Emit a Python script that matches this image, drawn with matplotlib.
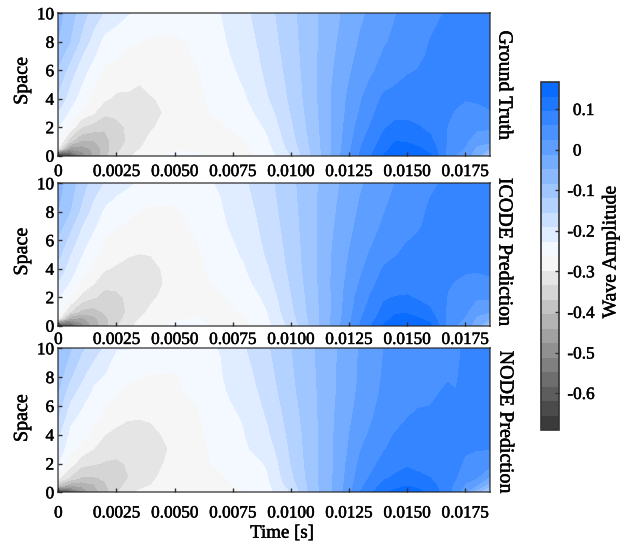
import numpy as np
import matplotlib
matplotlib.use("Agg")
import matplotlib.pyplot as plt
import matplotlib.patheffects as pe
from matplotlib.colors import LinearSegmentedColormap
from matplotlib.text import Text
from matplotlib.transforms import ScaledTranslation

plt.rcParams['font.family'] = ['Liberation Serif', 'DejaVu Serif']
plt.rcParams['font.size'] = 12.4

# grid the fields were read on
space = [0, 0.5, 1, 2, 3, 4, 5, 6, 7, 8, 10]
time = [0, 0.0005, 0.001, 0.0015, 0.002, 0.0025, 0.003, 0.0035, 0.004, 0.005, 0.006, 0.007, 0.008, 0.009,
        0.010, 0.011, 0.012, 0.013, 0.014, 0.0145, 0.015, 0.0155, 0.016, 0.01675, 0.0171, 0.0175, 0.018, 0.01857]

# one line per time value, one entry per space value
truth = [
    [-.69, -.30, -.258, -.227, -.195, -.165, -.145, -.125, -.105, -.085, -.07],
    [-.62, -.47, -.36, -.27, -.235, -.208, -.191, -.17, -.145, -.12, -.105],
    [-.50, -.46, -.41, -.335, -.272, -.245, -.227, -.212, -.19, -.165, -.137],
    [-.44, -.435, -.41, -.35, -.295, -.272, -.258, -.24, -.222, -.205, -.172],
    [-.385, -.39, -.385, -.365, -.327, -.293, -.28, -.268, -.254, -.24, -.195],
    [-.335, -.345, -.35, -.352, -.322, -.305, -.29, -.272, -.26, -.25, -.21],
    [-.305, -.32, -.33, -.326, -.31, -.303, -.293, -.278, -.266, -.26, -.225],
    [-.285, -.3, -.31, -.318, -.315, -.305, -.298, -.276, -.27, -.262, -.232],
    [-.272, -.275, -.285, -.302, -.31, -.302, -.285, -.276, -.272, -.268, -.24],
    [-.256, -.265, -.27, -.278, -.285, -.28, -.275, -.272, -.27, -.27, -.243],
    [-.261, -.265, -.268, -.27, -.27, -.269, -.267, -.264, -.26, -.255, -.24],
    [-.27, -.27, -.27, -.268, -.255, -.25, -.245, -.24, -.236, -.233, -.227],
    [-.272, -.27, -.263, -.25, -.24, -.232, -.225, -.22, -.215, -.21, -.2],
    [-.247, -.24, -.232, -.222, -.21, -.195, -.188, -.183, -.179, -.175, -.168],
    [-.191, -.18, -.172, -.163, -.155, -.149, -.146, -.142, -.139, -.136, -.131],
    [-.11, -.108, -.105, -.1, -.097, -.094, -.093, -.092, -.092, -.092, -.092],
    [-.025, -.028, -.03, -.031, -.032, -.032, -.035, -.04, -.044, -.048, -.054],
    [.063, .058, .052, .04, .028, .02, .012, .005, -.002, -.008, -.018],
    [.133, .118, .108, .09, .078, .066, .05, .035, .027, .02, .01],
    [.158, .144, .131, .105, .085, .071, .058, .045, .037, .03, .022],
    [.162, .146, .128, .105, .085, .075, .066, .055, .047, .04, .033],
    [.155, .135, .12, .097, .082, .075, .068, .06, .055, .05, .041],
    [.135, .12, .105, .085, .08, .075, .068, .065, .062, .06, .05],
    [.05, .052, .055, .058, .063, .068, .072, .072, .07, .068, .062],
    [.022, .035, .042, .047, .056, .066, .07, .072, .073, .073, .068],
    [.002, .02, .03, .04, .052, .06, .068, .074, .076, .076, .072],
    [-.03, -.02, .0, .03, .052, .062, .072, .076, .078, .08, .078],
    [-.14, -.05, -.005, .03, .055, .07, .078, .08, .082, .084, .085],
]

icode = [
    [-.69, -.29, -.25, -.225, -.195, -.168, -.145, -.125, -.105, -.085, -.07],
    [-.61, -.44, -.33, -.26, -.23, -.208, -.19, -.168, -.145, -.12, -.103],
    [-.50, -.45, -.38, -.31, -.268, -.245, -.226, -.21, -.19, -.165, -.137],
    [-.43, -.42, -.385, -.33, -.295, -.27, -.255, -.237, -.22, -.205, -.172],
    [-.385, -.38, -.365, -.345, -.325, -.295, -.278, -.265, -.25, -.235, -.195],
    [-.338, -.345, -.35, -.345, -.32, -.303, -.286, -.272, -.26, -.25, -.21],
    [-.31, -.325, -.33, -.326, -.315, -.306, -.296, -.28, -.268, -.255, -.222],
    [-.285, -.298, -.31, -.32, -.316, -.307, -.299, -.279, -.27, -.265, -.232],
    [-.272, -.28, -.29, -.305, -.312, -.308, -.297, -.278, -.272, -.27, -.238],
    [-.258, -.265, -.27, -.278, -.285, -.283, -.278, -.274, -.27, -.268, -.242],
    [-.258, -.262, -.266, -.27, -.272, -.27, -.267, -.262, -.258, -.252, -.235],
    [-.268, -.268, -.268, -.265, -.254, -.248, -.243, -.238, -.233, -.23, -.224],
    [-.27, -.268, -.26, -.248, -.238, -.23, -.223, -.218, -.213, -.208, -.197],
    [-.238, -.232, -.227, -.218, -.205, -.195, -.187, -.182, -.178, -.174, -.167],
    [-.18, -.172, -.165, -.158, -.152, -.147, -.144, -.141, -.138, -.135, -.13],
    [-.105, -.102, -.1, -.098, -.095, -.093, -.092, -.092, -.091, -.091, -.091],
    [-.024, -.027, -.03, -.03, -.03, -.032, -.034, -.038, -.042, -.046, -.052],
    [.062, .056, .05, .04, .027, .018, .011, .005, -.001, -.006, -.016],
    [.135, .116, .105, .09, .075, .062, .048, .036, .028, .022, .012],
    [.16, .14, .125, .096, .08, .068, .057, .047, .04, .033, .024],
    [.165, .145, .125, .098, .08, .07, .066, .058, .05, .044, .036],
    [.158, .133, .112, .09, .077, .07, .067, .062, .057, .053, .045],
    [.14, .118, .1, .082, .074, .07, .068, .066, .064, .063, .055],
    [.05, .052, .054, .057, .062, .068, .07, .071, .07, .069, .063],
    [.024, .036, .042, .048, .057, .066, .07, .072, .073, .073, .068],
    [.003, .02, .03, .042, .054, .062, .07, .075, .077, .077, .073],
    [-.03, -.018, -.002, .028, .05, .062, .072, .077, .08, .08, .078],
    [-.13, -.05, -.008, .028, .052, .066, .076, .08, .083, .084, .085],
]

node = [
    [-.69, -.38, -.29, -.227, -.205, -.187, -.158, -.14, -.12, -.105, -.09],
    [-.60, -.43, -.34, -.28, -.25, -.235, -.222, -.198, -.175, -.15, -.115],
    [-.49, -.43, -.375, -.322, -.275, -.25, -.235, -.225, -.205, -.185, -.15],
    [-.42, -.41, -.375, -.33, -.298, -.27, -.258, -.245, -.232, -.22, -.17],
    [-.39, -.375, -.365, -.338, -.315, -.298, -.272, -.26, -.245, -.23, -.2],
    [-.34, -.348, -.352, -.342, -.318, -.303, -.294, -.275, -.26, -.248, -.226],
    [-.31, -.325, -.335, -.33, -.315, -.306, -.298, -.28, -.268, -.258, -.225],
    [-.292, -.31, -.32, -.325, -.318, -.308, -.299, -.28, -.27, -.262, -.235],
    [-.285, -.298, -.305, -.315, -.318, -.308, -.296, -.28, -.27, -.266, -.24],
    [-.27, -.272, -.275, -.283, -.29, -.285, -.28, -.272, -.268, -.266, -.242],
    [-.272, -.272, -.272, -.272, -.272, -.27, -.267, -.262, -.254, -.248, -.232],
    [-.272, -.27, -.266, -.255, -.25, -.245, -.24, -.235, -.231, -.229, -.226],
    [-.262, -.255, -.25, -.24, -.232, -.228, -.225, -.22, -.214, -.208, -.195],
    [-.24, -.235, -.23, -.224, -.21, -.198, -.19, -.183, -.176, -.17, -.16],
    [-.191, -.175, -.165, -.155, -.15, -.145, -.14, -.135, -.13, -.127, -.122],
    [-.098, -.097, -.096, -.095, -.094, -.094, -.093, -.091, -.09, -.088, -.086],
    [-.035, -.036, -.037, -.038, -.04, -.04, -.042, -.044, -.046, -.047, -.048],
    [.06, .05, .042, .032, .022, .013, .006, .0, -.004, -.007, -.008],
    [.125, .105, .09, .07, .056, .048, .04, .035, .03, .027, .0235],
    [.14, .118, .1, .084, .072, .061, .05, .044, .038, .033, .029],
    [.15, .128, .108, .09, .08, .07, .06, .053, .045, .04, .035],
    [.14, .12, .102, .085, .076, .07, .064, .058, .05, .047, .04],
    [.125, .11, .095, .08, .074, .07, .068, .059, .052, .05, .045],
    [.068, .068, .068, .066, .066, .068, .068, .066, .064, .056, .05],
    [.045, .052, .06, .065, .068, .07, .07, .069, .06, .054, .05],
    [-.01, .02, .035, .055, .062, .068, .072, .074, .074, .073, .066],
    [-.07, -.012, .0235, .048, .06, .066, .072, .076, .078, .079, .076],
    [-.16, -.07, -.02, .035, .06, .068, .074, .078, .08, .082, .083],
]

level_edges = [-.691, -.655, -.62, -.584, -.548, -.512, -.477, -.441, -.405, -.37, -.334, -.298, -.2625,
               -.2268, -.191, -.155, -.12, -.084, -.048, -.012, .0235, .059, .095, .131, .1665]

x_ticks = [0, 0.0025, 0.005, 0.0075, 0.01, 0.0125, 0.015, 0.0175]
x_labels = ['0', '0.0025', '0.0050', '0.0075', '0.0100', '0.0125', '0.0150', '0.0175']
y_ticks = [0, 2, 4, 6, 8, 10]
cbar_ticks = [-0.6, -0.5, -0.4, -0.3, -0.2, -0.1, 0, 0.1]
cbar_labels = ['-0.6', '-0.5', '-0.4', '-0.3', '-0.2', '-0.1', '0', '0.1']

W, H = 638, 544
fig = plt.figure(figsize=(W / 100, H / 100), dpi=100)
cmap = LinearSegmentedColormap.from_list('wave', ['#333333', '#ffffff', '#0066ff'])


def px_axes(left, top, right, bottom):
    return fig.add_axes([left / W, 1 - bottom / H, (right - left) / W, (bottom - top) / H])


def style_spines(ax):
    for s in ax.spines.values():
        s.set_color('#222222')
        s.set_alpha(0.7)
        s.set_linewidth(1.2)


panels = [
    (truth, 'Ground Truth', (13.3, 155.7), 6, 504, 85, 0.525),
    (icode, 'ICODE Prediction', (183.3, 325.7), 4.5, 504, 252, 0.52),
    (node, 'NODE Prediction', (348.3, 492.3), 9.5, 505, 422, 0.515),
]

for field, name, (top, bottom), pad, tx, ty, ly in panels:
    ax = px_axes(58.3, top, 490, bottom)
    cs = ax.contourf(time, space, np.array(field).T, levels=level_edges, cmap=cmap)
    ax.set_xlim(0, 0.01857)
    ax.set_ylim(0, 10)
    ax.set_xticks(x_ticks)
    ax.set_xticklabels(x_labels)
    ax.set_yticks(y_ticks)
    ax.tick_params(direction='in', length=3, width=1, color='#333333', pad=3)
    ax.tick_params(axis='x', pad=pad)
    ax.set_ylabel('Space', fontsize=14.4)
    ax.yaxis.set_label_coords((32 - 58.3) / (490 - 58.3), ly)
    style_spines(ax)
    fig.text(tx / W, 1 - ty / H, name, rotation=-90, ha='center', va='center', fontsize=14.4)

ax.set_xlabel('Time [s]', fontsize=13.6)
ax.xaxis.set_label_coords((282 - 58.3) / (490 - 58.3), -0.225)

cax = px_axes(540.7, 82, 559, 430)
cbar = fig.colorbar(cs, cax=cax)
cbar.set_ticks(cbar_ticks)
cbar.set_ticklabels(cbar_labels)
cbar.ax.tick_params(direction='in', length=3, width=1, color='#333333', pad=10)
cbar.outline.set_edgecolor('#333333')
cbar.outline.set_linewidth(1.2)
# the hyphen hangs to the left of the digits
for lab in cbar.ax.get_yticklabels():
    if lab.get_text().startswith('-'):
        lab.set_transform(lab.get_transform() + ScaledTranslation(-5.5 / 100, 0, fig.dpi_scale_trans))
fig.text(611 / W, 1 - 252 / H, 'Wave Amplitude', rotation=90, ha='center', va='center', fontsize=14.2)

# reference text is a bit heavier than the plain font
for t in fig.findobj(Text):
    t.set_path_effects([pe.withStroke(linewidth=0.35, foreground='black')])

fig.savefig('out.png', dpi=100)
